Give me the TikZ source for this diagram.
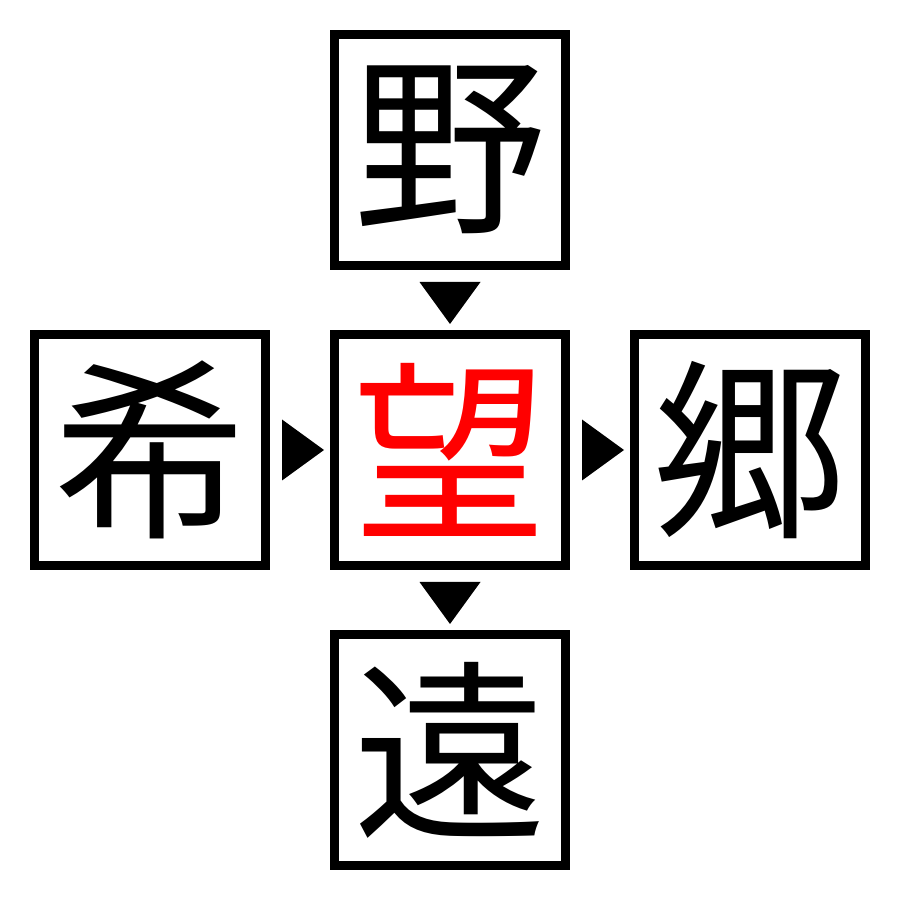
\documentclass[tikz,border=0pt]{standalone}
\usepackage{fontspec}
\newfontfamily\cjk{Noto Sans CJK JP}
\usetikzlibrary{positioning}
\tikzset{
  charbox/.style={draw=black, line width=0.9mm, minimum size=2.31cm, inner sep=0pt,
    font=\cjk\fontsize{55}{55}\selectfont},
  pointer/.style={fill=black}
}
\begin{document}
\begin{tikzpicture}
\useasboundingbox (0,0) rectangle (9,9);
\node[charbox, text=red] (wang) at (4.5,4.5) {望};
\node[charbox, above=0.6cm of wang] (ye) {野};
\node[charbox, below=0.6cm of wang] (yuan) {遠};
\node[charbox, left=0.6cm of wang] (xi) {希};
\node[charbox, right=0.6cm of wang] (xiang) {郷};
% pointers between the boxes
\fill[pointer] ([xshift=-0.305cm,yshift=-0.12cm]ye.south) -- ++(0.61,0)
  -- ([yshift=0.06cm]wang.north) -- cycle;
\fill[pointer] ([xshift=-0.305cm,yshift=-0.12cm]wang.south) -- ++(0.61,0)
  -- ([yshift=0.06cm]yuan.north) -- cycle;
\fill[pointer] ([xshift=0.12cm,yshift=0.305cm]xi.east) -- ++(0,-0.61)
  -- ([xshift=-0.06cm]wang.west) -- cycle;
\fill[pointer] ([xshift=0.12cm,yshift=0.305cm]wang.east) -- ++(0,-0.61)
  -- ([xshift=-0.06cm]xiang.west) -- cycle;
\end{tikzpicture}
\end{document}
